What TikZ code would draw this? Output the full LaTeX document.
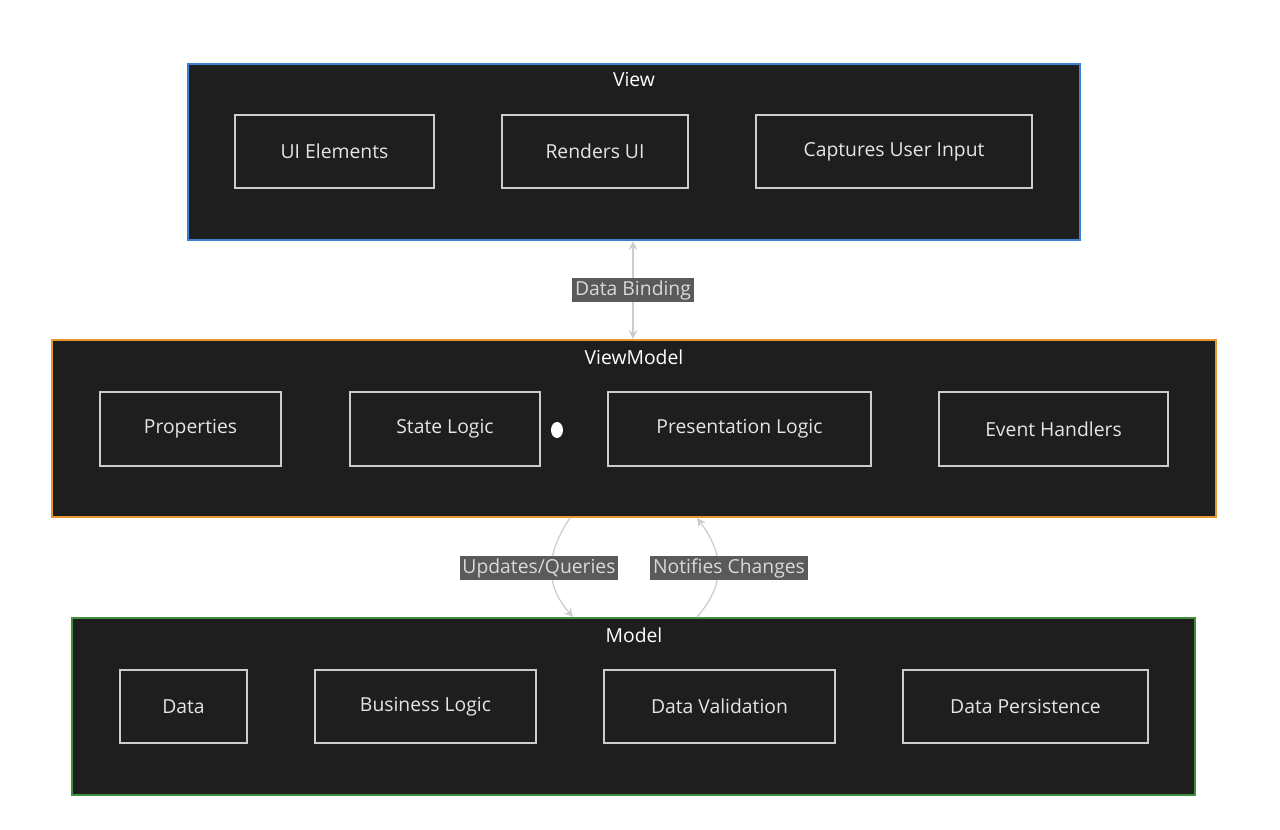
\documentclass[tikz,border=0pt]{standalone}
\usepackage{fontspec}
\setmainfont{Open Sans}
\usetikzlibrary{arrows.meta,positioning}
\definecolor{panel}{HTML}{1E1E1E}
\definecolor{viewblue}{HTML}{3D7FD0}
\definecolor{vmorange}{HTML}{E8962E}
\definecolor{modgreen}{HTML}{3F8F3F}
\definecolor{lblgray}{HTML}{5A5A5A}
\definecolor{linegray}{HTML}{CCCCCC}
\tikzset{
  group/.style={fill=panel,line width=1.2pt,inner sep=0pt},
  item/.style={draw=linegray,line width=0.6pt,text=white!90!black,inner sep=0pt,font=\fontsize{11}{13}\selectfont},
  title/.style={text=white,font=\fontsize{11}{13}\selectfont},
  lbl/.style={fill=lblgray,text=white!85!black,inner sep=1.5pt,font=\fontsize{11}{13}\selectfont},
  link/.style={draw=linegray,line width=0.7pt,-{Stealth[length=5pt,width=5pt]}}
}
\begin{document}
\begin{tikzpicture}[x=0.02cm,y=-0.02cm]
\useasboundingbox (0,0) rectangle (1280,830);
%layers
\node[group,draw=viewblue,minimum width=892*0.02cm,minimum height=176*0.02cm] (view) at (634,152) {};
\node[group,draw=vmorange,minimum width=1164*0.02cm,minimum height=177*0.02cm] (vm) at (634,428.5) {};
\node[group,draw=modgreen,minimum width=1123*0.02cm,minimum height=177*0.02cm] (model) at (633.5,706.5) {};
\node[title] (viewt) at (634,80) {View};
\node[title] (vmt) at (634,357) {ViewModel};
\node[title] (modelt) at (634,635) {Model};
%view items
\node[item,minimum width=199*0.02cm,minimum height=73*0.02cm] (ui) at (334.5,151.5) {UI Elements};
\node[item,minimum width=186*0.02cm,minimum height=73*0.02cm] (render) at (595,151.5) {Renders UI};
\node[item,minimum width=276*0.02cm,minimum height=73*0.02cm] (capture) at (894,151.5) {Captures User Input};
%viewmodel items
\node[item,minimum width=181*0.02cm,minimum height=74*0.02cm] (props) at (190.5,429) {Properties};
\node[item,minimum width=190*0.02cm,minimum height=74*0.02cm] (state) at (445,429) {State Logic};
\node[item,minimum width=263*0.02cm,minimum height=74*0.02cm] (present) at (739.5,429) {Presentation Logic};
\node[item,minimum width=229*0.02cm,minimum height=74*0.02cm] (events) at (1053.5,429) {Event Handlers};
\fill[white] (557,430) ellipse (6 and 8);
%model items
\node[item,minimum width=127*0.02cm,minimum height=73*0.02cm] (data) at (183.5,706.5) {Data};
\node[item,minimum width=221*0.02cm,minimum height=73*0.02cm] (business) at (425.5,706.5) {Business Logic};
\node[item,minimum width=231*0.02cm,minimum height=73*0.02cm] (valid) at (719.5,706.5) {Data Validation};
\node[item,minimum width=245*0.02cm,minimum height=73*0.02cm] (persist) at (1025.5,706.5) {Data Persistence};
%connectors
\coordinate (vtop) at (view.south -| 633,0);
\coordinate (vmtop) at (vm.north -| 633,0);
\draw[link,{Stealth[length=5pt,width=5pt]}-{Stealth[length=5pt,width=5pt]}] (vtop) -- (vmtop)
  node[lbl,midway] (bind) {Data Binding};
\coordinate (uqa) at (vm.south -| 570,0);
\coordinate (uqb) at (model.north -| 573,0);
\coordinate (nca) at (model.north -| 697,0);
\coordinate (ncb) at (vm.south -| 697,0);
\draw[link] (uqa) .. controls (545,555) and (545,585) .. (uqb);
\draw[link] (nca) .. controls (725,585) and (725,555) .. (ncb);
\node[lbl] (uq) at (539,568) {Updates/Queries};
\node[lbl] (nc) at (729,568) {Notifies Changes};
\end{tikzpicture}
\end{document}
